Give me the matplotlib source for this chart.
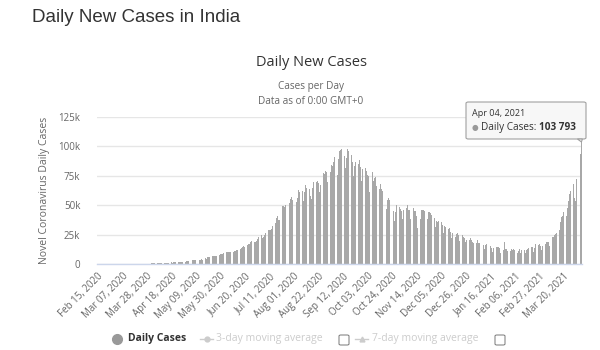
import matplotlib
matplotlib.use("Agg")
import matplotlib.pyplot as plt
from matplotlib.patches import FancyBboxPatch, Polygon
from matplotlib.lines import Line2D
import datetime as dt

# ---------------- data ----------------
start_date = dt.date(2020, 2, 15)

feb_2020 = [0] * 15
mar_2020 = [0, 2, 1, 22, 2, 1, 3, 5, 4, 15, 6, 11, 10, 20, 11, 6, 23, 14, 38, 50, 86, 66, 103, 37, 121, 70, 160, 100, 74, 227, 146]
apr_2020 = [601, 545, 478, 578, 689, 573, 565, 813, 871, 854, 758, 1243, 1031, 886, 1061, 922, 1371, 1580, 1239, 1537,
            1292, 1667, 1408, 1835, 1607, 1561, 1873, 1738, 1801, 1993]
may_2020 = [2396, 2564, 2952, 3656, 2971, 3602, 3344, 3339, 3175, 4311, 3592, 3562, 3726, 3991, 3808, 4794, 5049, 4630,
            6147, 5553, 6198, 6568, 6629, 7111, 6415, 6535, 6387, 7466, 7964, 8380, 8392]
jun_2020 = [8171, 9633, 9304, 9851, 9887, 9971, 9983, 9987, 9985, 9996, 10956, 11458, 11929, 11502, 10667, 12881, 13586,
            14516, 15413, 14821, 14933, 15968, 16922, 17296, 18552, 19906, 19459, 18522, 18653, 19148]
jul_2020 = [20903, 22771, 24850, 24248, 22252, 22752, 24879, 26506, 27114, 28637, 28701, 28498, 29429, 32695, 34956,
            34884, 38902, 40425, 37148, 37724, 45720, 49310, 48916, 48661, 49931, 47704, 48513, 52123, 55079, 57118, 54735]
aug_2020 = [52972, 52050, 52509, 56282, 62538, 61537, 64399, 62064, 53601, 60963, 66999, 64553, 65002, 63490, 57981,
            55079, 64531, 69652, 68898, 69878, 70488, 69239, 61408, 67151, 75760, 77266, 76472, 78761, 78512, 69921, 69921]
sep_2020 = [78357, 83883, 83341, 86432, 90632, 90802, 75809, 89706, 95735, 96551, 97570, 94372, 92071, 81911, 90123,
            97894, 96424, 93337, 92605, 86961, 75083, 83347, 86508, 86052, 85362, 88600, 82170, 70589, 80472, 86821]
oct_2020 = [81484, 79476, 75829, 74442, 61267, 72049, 78524, 70496, 73272, 74383, 66732, 55342, 63509, 67708, 63371,
            62212, 61871, 55722, 46791, 54044, 55839, 54366, 53370, 50129, 45149, 36469, 43893, 49881, 48648, 48268, 46963]
nov_2020 = [45231, 38310, 46253, 50210, 47638, 50357, 45674, 45903, 38073, 44281, 47905, 44879, 44684, 41100, 30548,
            29163, 38617, 45576, 45882, 46232, 45209, 44059, 37975, 44376, 44489, 43082, 41322, 41810, 38772, 31118]
dec_2020 = [36604, 35551, 36595, 36652, 36011, 32981, 26567, 32080, 31522, 29398, 30006, 30254, 27071, 22065, 26382,
            24010, 22890, 25152, 26624, 24337, 19556, 23950, 24712, 23067, 22272, 18732, 20021, 16432, 20549, 21822, 20035]
jan_2021 = [19078, 18177, 16505, 18088, 20346, 18139, 18088, 18222, 18645, 16311, 12584, 15968, 16946, 15590, 15158,
            15144, 13788, 10064, 13823, 15223, 14545, 14256, 14849, 13203, 9102, 12689, 11666, 18855, 13083, 13052, 11427]
feb_2021 = [8635, 11039, 12899, 11713, 12408, 11831, 11067, 9110, 11067, 12923, 9309, 12143, 12194, 11649, 9121, 11610,
            12881, 13193, 13993, 14264, 14199, 10584, 13742, 16738, 16577, 16488, 16752, 15510]
mar_2021 = [12286, 14989, 17407, 16838, 18327, 18711, 18599, 15388, 17921, 22854, 23285, 24882, 25320, 26291, 24492,
            28903, 35871, 39726, 40953, 43846, 46951, 40715, 47262, 53476, 59118, 62258, 62714, 68020, 56211, 53480, 72330]
apr_2021 = [81466, 89129, 93249, 103793]

daily_cases = (feb_2020 + mar_2020 + apr_2020 + may_2020 + jun_2020 + jul_2020 + aug_2020 + sep_2020 + oct_2020 +
               nov_2020 + dec_2020 + jan_2021 + feb_2021 + mar_2021 + apr_2021)
dates = [start_date + dt.timedelta(days=i) for i in range(len(daily_cases))]
categories = [d.strftime("%b %d, %Y") for d in dates]

y_ticks = [0, 25000, 50000, 75000, 100000, 125000]
y_tick_labels = ["0", "25k", "50k", "75k", "100k", "125k"]
tick_step = 21

# ---------------- figure ----------------
W, H = 600, 350
fig = plt.figure(figsize=(W / 100, H / 100), dpi=100)
FONT = "Open Sans"

def fx(px):
    return px / W

def fy(py):
    return 1 - py / H

ax = fig.add_axes([fx(97), fy(264), fx(582) - fx(97), fy(117) - fy(264)])
x = list(range(len(daily_cases)))
ax.bar(x, daily_cases, width=0.7, color="#a8a8a8", linewidth=0, zorder=2)
ax.set_xlim(-0.5, len(daily_cases) - 0.5)
ax.set_ylim(0, 125000)
ax.set_yticks(y_ticks)
ax.set_yticklabels(y_tick_labels, fontsize=7, color="#666666", family=FONT)
ax.tick_params(axis="y", length=0, pad=12)
ax.grid(axis="y", color="#e6e6e6", linewidth=1, zorder=0)
for s in ["top", "right", "left"]:
    ax.spines[s].set_visible(False)
ax.spines["bottom"].set_color("#ccd6eb")
ax.spines["bottom"].set_linewidth(1)
xt = list(range(0, len(daily_cases), tick_step))
ax.set_xticks(xt)
ax.set_xticklabels([categories[i] for i in xt], rotation=45, ha="right", va="top",
                   rotation_mode="anchor", fontsize=7, color="#666666", family=FONT)
ax.tick_params(axis="x", length=0, pad=5)
ax.set_ylabel("Novel Coronavirus Daily Cases", fontsize=7.5, color="#666666", family=FONT)
ax.yaxis.set_label_coords((50 - 97) / (582 - 97), 0.5)

# ---------------- titles ----------------
fig.text(fx(32), fy(18), "Daily New Cases in India", fontsize=13.5, color="#333333",
         family="Liberation Sans", ha="left", va="center")
fig.text(fx(311), fy(63), "Daily New Cases", fontsize=10.5, color="#333333", family=FONT, ha="center", va="center")
fig.text(fx(311), fy(87), "Cases per Day", fontsize=7.2, color="#666666", family=FONT, ha="center", va="center")
fig.text(fx(311), fy(101), "Data as of 0:00 GMT+0", fontsize=7.2, color="#666666", family=FONT, ha="center", va="center")

# ---------------- tooltip ----------------
last = len(daily_cases) - 1
tip_x, tip_y = ax.transData.transform((last, daily_cases[last]))
tip_px = (tip_x, H - tip_y)
box_l, box_r, box_t, box_b = 466, 586, 102, 139
bx = FancyBboxPatch((fx(box_l), fy(box_b)), fx(box_r) - fx(box_l), fy(box_t) - fy(box_b),
                    boxstyle="round,pad=0,rounding_size=0.004", transform=fig.transFigure,
                    facecolor="#f7f7f7", edgecolor="#a0a0a0", linewidth=0.8, zorder=10)
fig.patches.append(bx)
ptr = Polygon([(fx(tip_px[0] - 4), fy(box_b)), (fx(tip_px[0] + 1), fy(box_b)), (fx(tip_px[0]), fy(tip_px[1]))],
              closed=True, transform=fig.transFigure, facecolor="#f7f7f7", edgecolor="#a0a0a0",
              linewidth=0.8, zorder=11)
fig.patches.append(ptr)
fig.text(fx(472), fy(113), dates[last].strftime("%b %d, %Y"), fontsize=6.5, color="#333333", family=FONT,
         ha="left", va="center", zorder=12)
fig.text(fx(472), fy(128), "\u25cf", fontsize=5.5, color="#999999", family="DejaVu Sans", ha="left", va="center", zorder=12)
t1 = fig.text(fx(481), fy(128), "Daily Cases: ", fontsize=7.2, color="#333333", family=FONT,
              ha="left", va="center", zorder=12)
fig.canvas.draw()
bb = t1.get_window_extent()
fig.text(bb.x1 / W, fy(128), f"{daily_cases[last]:,}".replace(",", " "), fontsize=7.2, color="#333333",
         family=FONT, weight="bold", ha="left", va="center", zorder=12)

# ---------------- legend ----------------
ly = fy(339)
fig.add_artist(Line2D([fx(117)], [ly], marker="o", markersize=7, color="#999999", linestyle="none",
                      transform=fig.transFigure))
fig.text(fx(128), ly, "Daily Cases", fontsize=7.5, weight="bold", color="#333333", family=FONT, ha="left", va="center")
fig.add_artist(Line2D([fx(200), fx(213)], [ly, ly], color="#cccccc", linewidth=1, transform=fig.transFigure))
fig.add_artist(Line2D([fx(206.5)], [ly], marker="o", markersize=3.5, color="#cccccc", linestyle="none",
                      transform=fig.transFigure))
fig.text(fx(216), ly, "3-day moving average", fontsize=7.5, color="#cccccc", family=FONT, ha="left", va="center")
fig.add_artist(Line2D([fx(355), fx(368)], [ly, ly], color="#cccccc", linewidth=1, transform=fig.transFigure))
fig.add_artist(Line2D([fx(361.5)], [ly], marker="^", markersize=3.5, color="#cccccc", linestyle="none",
                      transform=fig.transFigure))
fig.text(fx(372), ly, "7-day moving average", fontsize=7.5, color="#cccccc", family=FONT, ha="left", va="center")
for cx in (339, 495):
    cb = FancyBboxPatch((fx(cx), fy(345)), fx(10), fy(335) - fy(345), boxstyle="round,pad=0,rounding_size=0.003",
                        transform=fig.transFigure, facecolor="white", edgecolor="#777777", linewidth=0.7)
    fig.patches.append(cb)

fig.savefig("out.png", dpi=100)
